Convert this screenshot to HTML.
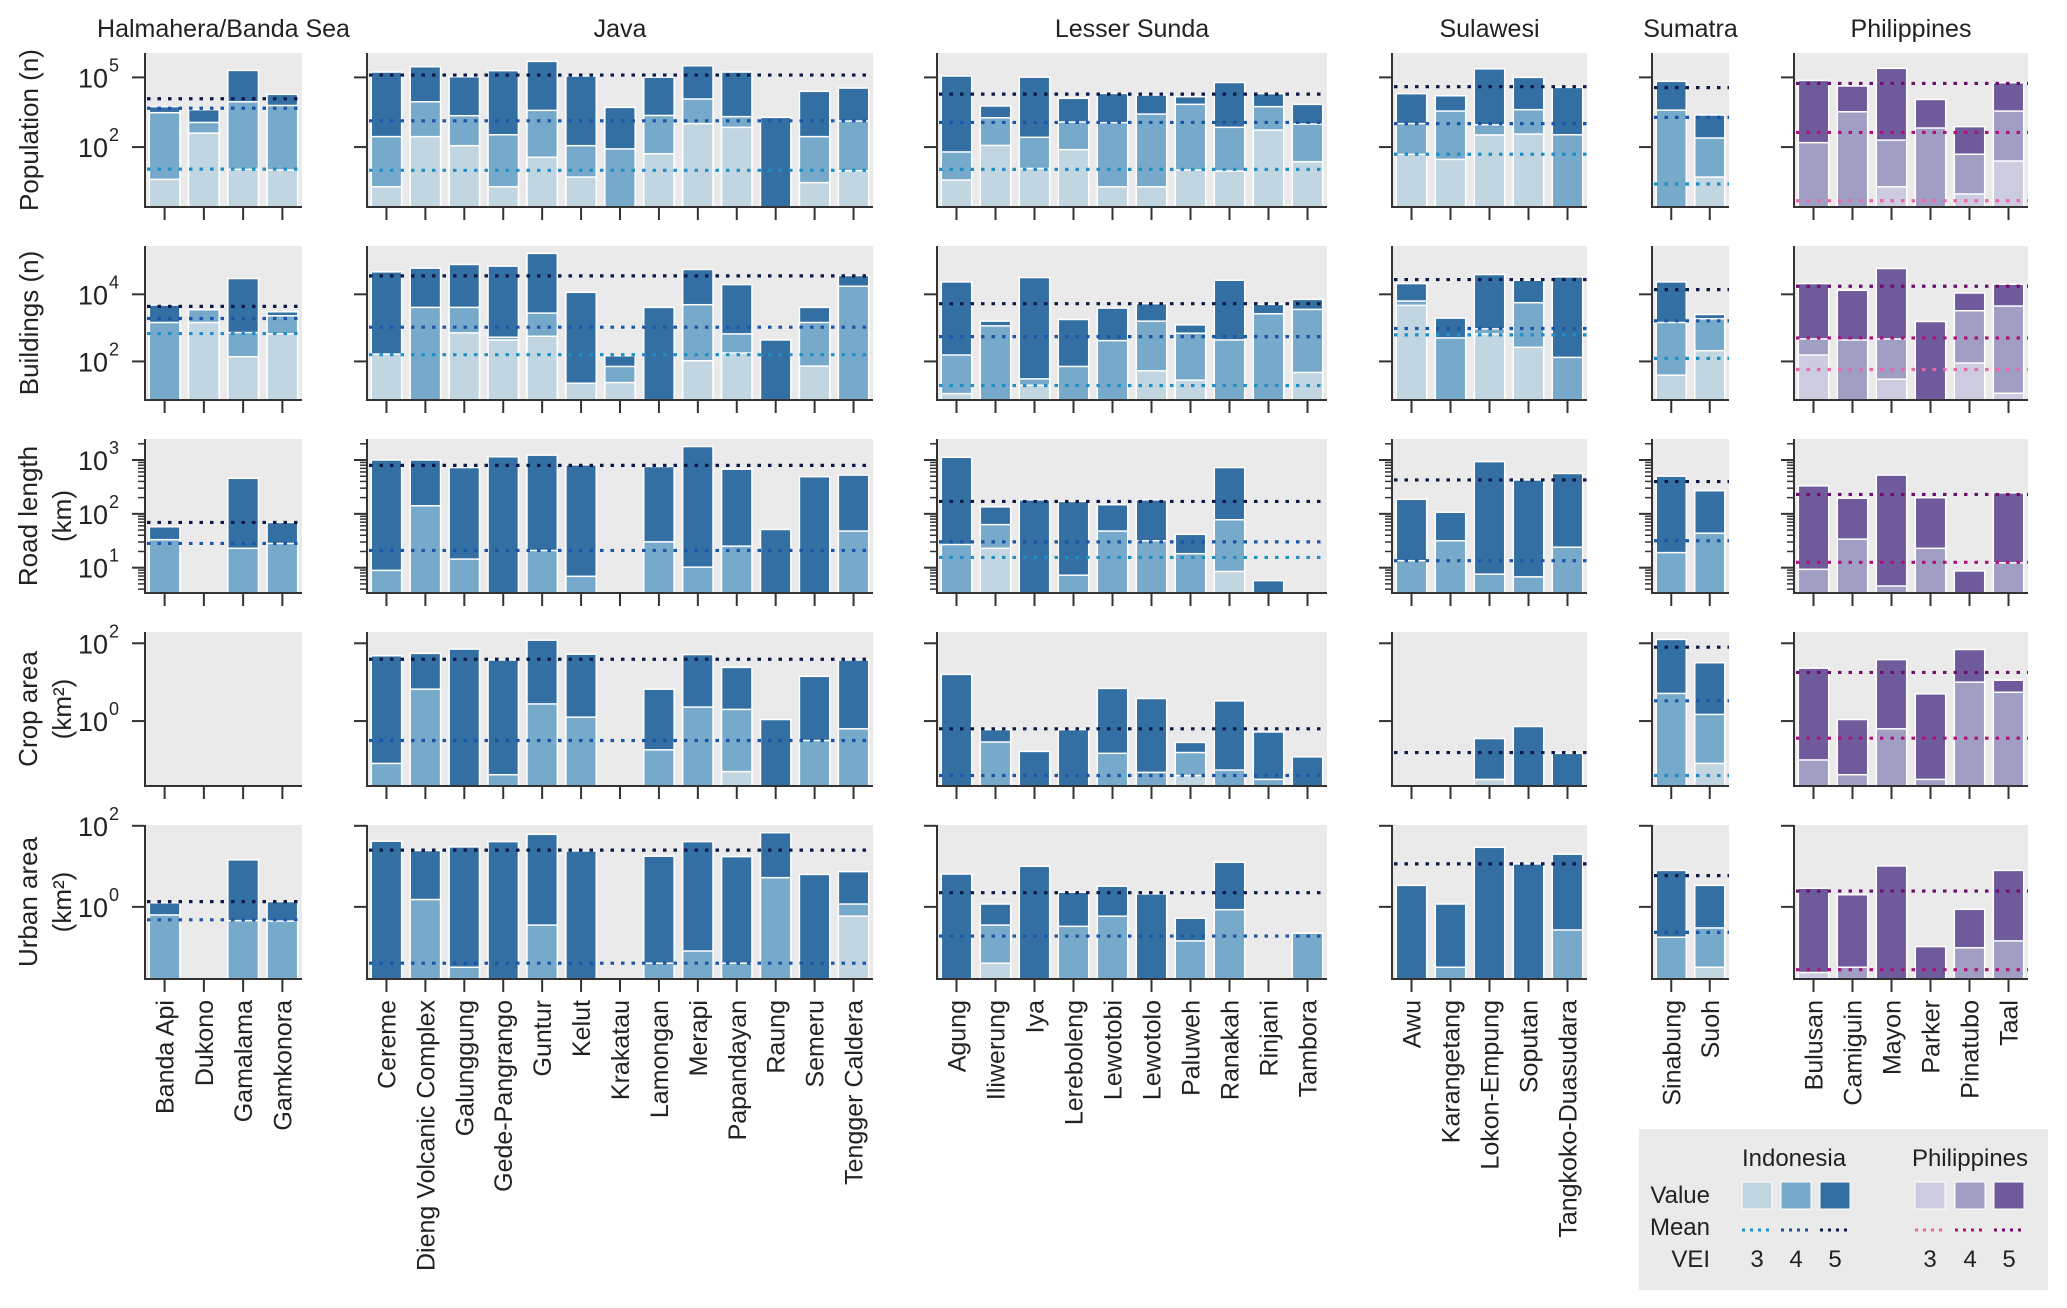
<!DOCTYPE html>
<html><head><meta charset="utf-8"><style>
html,body{margin:0;padding:0;background:#fff}
svg{display:block;font-family:"Liberation Sans",Arial,sans-serif}
</style></head><body>
<svg id="chart" width="2067" height="1308" viewBox="0 0 2067 1308" xmlns="http://www.w3.org/2000/svg"></svg>
<script>
// ---- DATA (values are log10 of the quantity) ----
const volcanoes = ["Banda Api","Dukono","Gamalama","Gamkonora",
"Cereme","Dieng Volcanic Complex","Galunggung","Gede-Pangrango","Guntur","Kelut","Krakatau","Lamongan","Merapi","Papandayan","Raung","Semeru","Tengger Caldera",
"Agung","Iliwerung","Iya","Lereboleng","Lewotobi","Lewotolo","Paluweh","Ranakah","Rinjani","Tambora",
"Awu","Karangetang","Lokon-Empung","Soputan","Tangkoko-Duasudara",
"Sinabung","Suoh",
"Bulusan","Camiguin","Mayon","Parker","Pinatubo","Taal"];
const regionNames = ["Halmahera/Banda Sea","Java","Lesser Sunda","Sulawesi","Sumatra","Philippines"];
const regionCounts = [4,13,10,5,2,6];
const N = null;

const popV5 = [3.74,3.61,5.30,4.27, 5.23,5.46,5.03,5.29,5.69,5.06,3.71,5.01,5.50,5.23,3.28,4.40,4.54, 5.06,3.77,5.01,4.10,4.31,4.24,4.17,4.78,4.30,3.84, 4.30,4.21,5.37,5.00,4.57, 4.83,3.38, 4.87,4.63,5.39,4.05,2.88,4.77];
const popV4 = [3.48,3.06,3.95,3.79, 2.45,3.95,3.35,2.53,3.58,2.06,1.92,3.36,4.07,3.31,N,2.45,3.12, 1.79,3.26,2.42,3.08,3.05,3.42,3.84,2.85,3.74,2.99, 3.01,3.55,2.96,3.61,2.53, 3.59,2.39, 2.19,3.52,2.30,2.82,1.69,3.55];
const popV3 = [0.61,2.60,1.04,1.01, 0.29,2.45,2.06,0.29,1.56,0.71,N,1.71,3.01,2.85,N,0.47,0.98, 0.58,2.07,1.08,1.89,0.29,0.29,1.01,0.97,2.73,1.37, 1.69,1.47,2.52,2.56,N, N,0.71, N,N,0.29,N,-0.02,1.40];
const popMean5 = [4.08,5.10,4.28,4.60,4.56,4.74];
const popMean4 = [3.67,3.13,3.06,3.01,3.28,2.63];
const popMean3 = [1.05,1.00,1.04,1.69,0.41,-0.31];

const bldV5 = [3.68,N,4.47,3.48, 4.67,4.78,4.89,4.84,5.22,4.06,2.17,3.61,4.74,4.29,2.64,3.61,4.56, 4.37,3.20,4.50,3.25,3.59,3.72,3.09,4.42,3.70,3.85, 4.32,3.29,4.59,4.42,4.52, 4.37,3.40, 4.32,4.12,4.77,3.19,4.04,4.30];
const bldV4 = [3.16,3.54,2.86,3.36, N,3.61,3.61,2.72,3.44,N,1.85,N,3.69,2.82,N,3.16,4.24, 2.19,3.06,1.48,1.85,2.62,3.20,2.84,2.64,3.42,3.55, 3.80,2.70,2.97,3.75,2.12, 3.16,3.27, 2.67,2.64,2.67,N,3.51,3.65];
const bldV3 = [N,3.16,2.14,2.82, 2.22,N,2.85,2.64,2.75,1.35,1.37,N,2.02,2.25,N,1.86,N, 1.04,N,1.29,N,N,1.72,1.44,N,N,1.67, 3.67,N,2.82,2.42,N, 1.59,2.32, 2.19,N,1.47,N,1.95,1.05];
const bldMean5 = [3.64,4.55,3.72,4.44,4.14,4.24];
const bldMean4 = [3.28,3.02,2.74,2.98,3.21,2.70];
const bldMean3 = [2.83,2.20,1.28,2.79,2.09,1.76];

const roadV5 = [1.76,N,2.66,1.84, 3.00,3.00,2.86,3.06,3.09,2.91,N,2.88,3.25,2.83,1.71,2.69,2.72, 3.05,2.13,2.26,2.23,2.17,2.26,1.62,2.86,0.76,N, 2.27,2.03,2.97,2.63,2.75, 2.70,2.43, 2.52,2.29,2.72,2.30,0.94,2.39];
const roadV4 = [1.52,N,1.36,1.45, 0.95,2.15,1.16,N,1.32,0.84,N,1.48,1.01,1.40,N,N,1.68, 1.43,1.80,N,0.86,1.68,1.50,1.26,1.89,N,N, 1.13,1.50,0.88,0.83,1.38, 1.28,1.64, 0.97,1.53,0.66,1.36,N,1.09];
const roadV3 = [N,N,N,N, N,N,N,N,N,N,N,N,N,N,N,N,N, N,1.36,N,N,N,N,N,0.93,N,N, N,N,N,N,N, N,N, N,N,N,N,N,N];
const roadMean5 = [1.84,2.90,2.23,2.63,2.60,2.36];
const roadMean4 = [1.45,1.32,1.48,1.13,1.50,1.10];
const roadMean3 = [N,N,1.19,N,N,N];

const cropV5 = [N,N,N,N, 1.68,1.74,1.85,1.57,2.08,1.72,N,0.82,1.71,1.38,0.04,1.15,1.57, 1.20,-0.22,-0.78,-0.22,0.84,0.58,-0.55,0.52,-0.28,-0.92, N,N,-0.45,-0.14,-0.83, 2.10,1.50, 1.36,0.04,1.58,0.70,1.84,1.05];
const cropV4 = [N,N,N,N, -1.09,0.82,N,-1.38,0.44,0.10,N,-0.74,0.36,0.30,N,-0.50,-0.20, N,-0.54,N,N,-0.83,-1.32,-0.81,-1.26,-1.50,N, N,N,N,N,N, 0.71,0.17, -1.00,-1.38,-0.20,-1.50,1.00,0.74];
const cropV3 = [N,N,N,N, N,N,N,N,N,N,N,N,N,-1.30,N,N,N, N,N,N,N,N,N,-1.40,N,N,N, N,N,-1.50,N,N, N,-1.09, N,N,N,N,N,N];
const cropMean5 = [N,1.59,-0.20,-0.81,1.90,1.25];
const cropMean4 = [N,-0.50,-1.40,N,0.52,-0.44];
const cropMean3 = [N,N,N,N,-1.40,N];

const urbV5 = [0.10,N,1.16,0.13, 1.62,1.39,1.48,1.61,1.79,1.38,N,1.25,1.61,1.24,1.83,0.80,0.87, 0.81,0.07,1.00,0.36,0.51,0.32,-0.28,1.10,N,N, 0.53,0.07,1.47,1.06,1.30, 0.90,0.53, 0.46,0.30,1.01,-0.98,-0.06,0.90];
const urbV4 = [-0.20,N,-0.34,-0.35, N,0.18,-1.49,N,-0.45,N,N,-1.39,-1.09,-1.39,0.72,N,0.07, N,-0.45,N,-0.48,-0.23,N,-0.84,-0.07,N,-0.65, N,-1.49,N,N,-0.57, -0.75,-0.52, N,-1.49,N,N,-1.01,-0.84];
const urbV3 = [N,N,N,N, N,N,N,N,N,N,N,N,N,N,N,N,-0.23, N,-1.39,N,N,N,N,N,N,N,N, N,N,N,N,N, N,-1.49, -1.62,N,N,N,N,N];
const urbMean5 = [0.13,1.40,0.35,1.06,0.77,0.39];
const urbMean4 = [-0.32,-1.39,-0.72,N,-0.63,-1.55];
const urbMean3 = [N,N,N,N,N,N];

const rowLabels = [["Population (n)"],["Buildings (n)"],["Road length","(km)"],["Crop area","(km²)"],["Urban area","(km²)"]];
const rowTickExps = [[2,5],[2,4],[1,2,3],[0,2],[0,2]];

// ---- LAYOUT ----
const svg = document.getElementById('chart');
const NS = 'http://www.w3.org/2000/svg';
function el(tag, attrs, parent){const e=document.createElementNS(NS,tag);for(const k in attrs)e.setAttribute(k,attrs[k]);(parent||svg).appendChild(e);return e;}
const colX = [[145,302],[367,873],[937,1327],[1392,1587],[1652,1729],[1794,2028]];
const rowTop = [53,246,439,632,825], rowH = 154;
const rowDomain = [[-0.58,6.05],[0.85,5.44],[0.53,3.39],[-1.67,2.29],[-1.78,2.02]];
const rowsData = [
 [popV3,popV4,popV5,popMean3,popMean4,popMean5],
 [bldV3,bldV4,bldV5,bldMean3,bldMean4,bldMean5],
 [roadV3,roadV4,roadV5,roadMean3,roadMean4,roadMean5],
 [cropV3,cropV4,cropV5,cropMean3,cropMean4,cropMean5],
 [urbV3,urbV4,urbV5,urbMean3,urbMean4,urbMean5]];
const indoFill = ['#c2d6e2','#76a9ca','#336fa2'];
const phFill = ['#cdcbdf','#a19ec4','#6f5b9b'];
const indoMean = ['#1e90c6','#1b55a8','#0b1a48'];
const phMean = ['#f064a8','#b0107e','#6d0f6d'];

function yScale(r,v){const d=rowDomain[r];const t=(v-d[0])/(d[1]-d[0]);return rowTop[r]+rowH-t*rowH;}

let startIdx=0;
regionNames.forEach((reg,g)=>{
  const [x0,x1]=colX[g]; const n=regionCounts[g]; const slot=(x1-x0)/n;
  const isPh = g===5; const fills = isPh?phFill:indoFill; const means = isPh?phMean:indoMean;
  const title = el('text',{x:(x0+x1)/2,y:37,'text-anchor':'middle','font-size':25,fill:'#222'});
  title.textContent=reg;
  
  
  for(let r=0;r<5;r++){
    const top=rowTop[r], bot=top+rowH;
    const grp=el('g',{});
    
    
    el('rect',{x:x0,y:top,width:x1-x0,height:rowH,fill:'#eaeaea'},grp);
    const data=rowsData[r];
    for(let i=0;i<n;i++){
      const idx=startIdx+i; const cx=x0+slot*(i+0.5); const bw=slot*0.78;
      for(let k=2;k>=0;k--){
        const v=data[k][idx]; if(v===null) continue;
        const y=Math.max(top,yScale(r,v)); if(y>=bot) continue;
        const b=el('rect',{x:cx-bw/2,y:y,width:bw,height:bot-y,fill:fills[k],stroke:'#fff','stroke-width':1.5},grp);
        
        
      }
    }
    for(let k=0;k<3;k++){
      const m=data[3+k][g]; if(m===null) continue;
      const y=yScale(r,m);
      const ln=el('line',{x1:x0+2,x2:x1,y1:y,y2:y,stroke:means[k],'stroke-width':3.2,'stroke-dasharray':'3.5 7'},grp);
      
      
    }
    // axes
    el('line',{x1:x0,x2:x0,y1:top,y2:bot+1,stroke:'#333','stroke-width':2},grp);
    el('line',{x1:x0,x2:x1,y1:bot,y2:bot,stroke:'#333','stroke-width':2},grp);
    for(let i=0;i<n;i++){const cx=x0+slot*(i+0.5);el('line',{x1:cx,x2:cx,y1:bot,y2:bot+13,stroke:'#333','stroke-width':2},grp);}
    // y ticks
    const d=rowDomain[r];
    if(r===2){
      for(let e=0;e<4;e++)for(let m=2;m<10;m++){const lv=e+Math.log10(m);if(lv<d[0]||lv>d[1])continue;const y=yScale(r,lv);
        el('line',{x1:x0-7,x2:x0,y1:y,y2:y,stroke:'#333','stroke-width':1.5},grp);}
    }
    rowTickExps[r].forEach(e=>{
      const y=yScale(r,e);
      el('line',{x1:x0-13,x2:x0,y1:y,y2:y,stroke:'#333','stroke-width':2},grp);
      if(g===0){
        const t=el('text',{x:x0-37,y:y+10,'text-anchor':'end','font-size':27,fill:'#222'});t.textContent='10';
        
        
        const s=el('text',{x:x0-36,y:y-6,'font-size':18,fill:'#222'});s.textContent=String(e);
        
        
      }
    });
  }
  // x labels
  for(let i=0;i<n;i++){
    const idx=startIdx+i; const cx=x0+slot*(i+0.5)+9;
    const t=el('text',{x:cx,y:1000,'text-anchor':'end','font-size':25,fill:'#222',transform:'rotate(-90 '+cx+' 1000)'});
    t.textContent=volcanoes[idx];
    
    
  }
  startIdx+=n;
});
// row labels
rowLabels.forEach((lines,r)=>{
  const cy=rowTop[r]+rowH/2;
  lines.forEach((s,j)=>{
    const bx = lines.length===1?38:(j===0?37:71);
    const t=el('text',{x:bx,y:cy,'text-anchor':'middle','font-size':26,fill:'#222',transform:'rotate(-90 '+bx+' '+cy+')'});
    t.textContent=s;
    
    
  });
});
// legend
const lg=el('g',{});


el('rect',{x:1639,y:1129,width:409,height:161,fill:'#eaeaea'},lg);
function lt(x,y,s,anchor,name){const t=el('text',{x:x,y:y,'text-anchor':anchor,'font-size':24,fill:'#222'},lg);t.textContent=s;
  
  
  return t;}
lt(1794,1166,'Indonesia','middle','legend-indonesia-title');
lt(1970,1166,'Philippines','middle','legend-philippines-title');
lt(1710,1203,'Value','end','legend-value-label');
lt(1710,1235,'Mean','end','legend-mean-label');
lt(1710,1267,'VEI','end','legend-vei-label');
const swX=[[1742,1781,1820],[1915,1955,1994]];
swX.forEach((xs,c)=>{
  const f=c?phFill:indoFill, m=c?phMean:indoMean;
  xs.forEach((x,k)=>{
    const r=el('rect',{x:x,y:1182,width:30,height:27,fill:f[k],stroke:'#fff','stroke-width':1},lg);
    
    
    const l=el('line',{x1:x,x2:x+30,y1:1230,y2:1230,stroke:m[k],'stroke-width':3,'stroke-dasharray':'3 5'},lg);
    
    
    lt(x+15,1267,String(k+3),'middle','legend-vei-'+(k+3));
  });
});
</script>
</body></html>
